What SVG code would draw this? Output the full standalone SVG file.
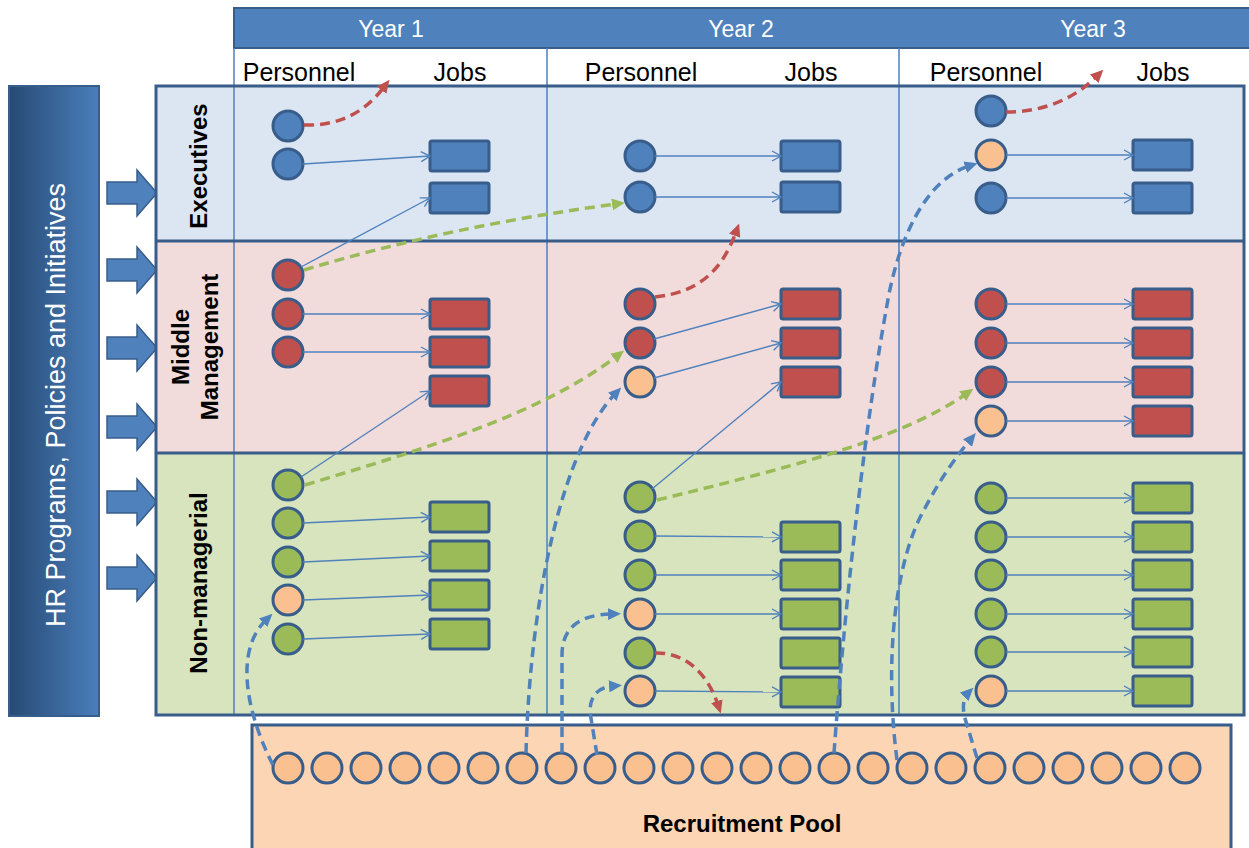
<svg xmlns="http://www.w3.org/2000/svg" width="1249" height="848" viewBox="0 0 1249 848">
<style>
text{font-family:"Liberation Sans",Arial,sans-serif}
.hd{font-size:23px;fill:#fff;text-anchor:middle}
.sub{font-size:25px;fill:#000;text-anchor:middle}
.band{font-size:24px;font-weight:bold;fill:#000;text-anchor:middle}
.n{stroke:#385d8a;stroke-width:3}
.exe{fill:#4f81bd}.mid{fill:#c0504d}.non{fill:#9bbb59}.new{fill:#fac090}
.col{stroke:#4f81bd;stroke-width:1.5;fill:none}
.sep{stroke:#385d8a;stroke-width:3;fill:none}
.lk{stroke:#4f81bd;stroke-width:1.4;fill:none;marker-end:url(#open)}
.d{stroke-width:3.5;stroke-dasharray:10 6;fill:none}
.dr{stroke:#c0504d;marker-end:url(#ar)}
.dg{stroke:#9bbb59;marker-end:url(#ag)}
.db{stroke:#4f81bd;marker-end:url(#ab)}
.la{fill:#4f81bd;stroke:#385d8a;stroke-width:1.5}
</style>
<defs>
<linearGradient id="hrg" x1="0" y1="0" x2="1" y2="0">
<stop offset="0" stop-color="#274a74"/>
<stop offset="1" stop-color="#4a7ebb"/>
</linearGradient>
<marker id="open" markerUnits="userSpaceOnUse" markerWidth="12" markerHeight="12" refX="10" refY="6" orient="auto">
<path d="M1,1 L10,6 L1,11" fill="none" stroke="#4f81bd" stroke-width="1.4"/>
</marker>
<marker id="ar" markerUnits="userSpaceOnUse" markerWidth="13" markerHeight="12" refX="4" refY="6" orient="auto">
<path d="M0,0 L13,6 L0,12 z" fill="#c0504d"/>
</marker>
<marker id="ag" markerUnits="userSpaceOnUse" markerWidth="13" markerHeight="12" refX="4" refY="6" orient="auto">
<path d="M0,0 L13,6 L0,12 z" fill="#9bbb59"/>
</marker>
<marker id="ab" markerUnits="userSpaceOnUse" markerWidth="13" markerHeight="12" refX="4" refY="6" orient="auto">
<path d="M0,0 L13,6 L0,12 z" fill="#4f81bd"/>
</marker>
</defs>
<rect width="1249" height="848" fill="#fff"/>

<g id="header">
<rect x="234" y="8" width="1022" height="40" fill="#4f81bd" stroke="#385d8a" stroke-width="2"/>
<text class="hd" x="391" y="37">Year 1</text>
<text class="hd" x="741" y="37">Year 2</text>
<text class="hd" x="1093" y="37">Year 3</text>
<text class="sub" x="299" y="81">Personnel</text>
<text class="sub" x="460" y="81">Jobs</text>
<text class="sub" x="641" y="81">Personnel</text>
<text class="sub" x="811" y="81">Jobs</text>
<text class="sub" x="986" y="81">Personnel</text>
<text class="sub" x="1163" y="81">Jobs</text>
</g>

<g id="hr-bar">
<rect x="9" y="86" width="90" height="630" fill="url(#hrg)" stroke="#385d8a" stroke-width="2"/>
<text transform="translate(65,405) rotate(-90)" font-size="27" fill="#fff" text-anchor="middle">HR Programs, Policies and Initiatives</text>
</g>
<g id="hr-arrows">
<polygon class="la" points="107,182 137,182 137,170 157,193 137,216 137,204 107,204"/>
<polygon class="la" points="107,259 137,259 137,247 157,270 137,293 137,281 107,281"/>
<polygon class="la" points="107,337 137,337 137,325 157,348 137,371 137,359 107,359"/>
<polygon class="la" points="107,416 137,416 137,404 157,427 137,450 137,438 107,438"/>
<polygon class="la" points="107,491 137,491 137,479 157,502 137,525 137,513 107,513"/>
<polygon class="la" points="107,567 137,567 137,555 157,578 137,601 137,589 107,589"/>
</g>

<g id="bands">
<rect x="156" y="86" width="1088" height="155" fill="#dce6f2"/>
<rect x="156" y="241" width="1088" height="212" fill="#f2dcdb"/>
<rect x="156" y="453" width="1088" height="262" fill="#d7e4bd"/>
<line class="col" x1="234" y1="48" x2="234" y2="715"/>
<line class="col" x1="547" y1="48" x2="547" y2="715"/>
<line class="col" x1="899" y1="48" x2="899" y2="715"/>
<line class="sep" x1="156" y1="241" x2="1244" y2="241"/>
<line class="sep" x1="156" y1="453" x2="1244" y2="453"/>
<rect class="sep" x="156" y="86" width="1088" height="629"/>
</g>
<g id="label-executives"><text class="band" transform="translate(207,166) rotate(-90)">Executives</text></g>
<g id="label-middle"><text class="band" transform="translate(189,347) rotate(-90)">Middle</text><text class="band" transform="translate(218,347) rotate(-90)">Management</text></g>
<g id="label-nonmanagerial"><text class="band" transform="translate(207,583) rotate(-90)">Non-managerial</text></g>

<g id="pool">
<rect x="252" y="725" width="979" height="130" fill="#fcd5b5" stroke="#385d8a" stroke-width="3"/>
<text x="742" y="832" font-size="24" font-weight="bold" text-anchor="middle">Recruitment Pool</text>
<g class="n new">
<circle cx="288" cy="768" r="15"/><circle cx="327" cy="768" r="15"/><circle cx="366" cy="768" r="15"/><circle cx="405" cy="768" r="15"/><circle cx="444" cy="768" r="15"/><circle cx="483" cy="768" r="15"/><circle cx="522" cy="768" r="15"/><circle cx="561" cy="768" r="15"/><circle cx="600" cy="768" r="15"/><circle cx="639" cy="768" r="15"/><circle cx="678" cy="768" r="15"/><circle cx="717" cy="768" r="15"/><circle cx="756" cy="768" r="15"/><circle cx="795" cy="768" r="15"/><circle cx="834" cy="768" r="15"/><circle cx="873" cy="768" r="15"/><circle cx="912" cy="768" r="15"/><circle cx="951" cy="768" r="15"/><circle cx="990" cy="768" r="15"/><circle cx="1029" cy="768" r="15"/><circle cx="1068" cy="768" r="15"/><circle cx="1107" cy="768" r="15"/><circle cx="1146" cy="768" r="15"/><circle cx="1185" cy="768" r="15"/>
</g>
</g>

<g id="year1-personnel" class="n">
<circle class="exe" cx="288" cy="126" r="15"/><circle class="exe" cx="288" cy="164" r="15"/>
<circle class="mid" cx="288" cy="275" r="15"/><circle class="mid" cx="288" cy="314" r="15"/><circle class="mid" cx="288" cy="352" r="15"/>
<circle class="non" cx="288" cy="485" r="15"/><circle class="non" cx="288" cy="523" r="15"/><circle class="non" cx="288" cy="562" r="15"/><circle class="new" cx="288" cy="600" r="15"/><circle class="non" cx="288" cy="639" r="15"/>
</g>
<g id="year1-jobs" class="n">
<rect class="exe" x="430" y="141" width="59" height="30" rx="2"/><rect class="exe" x="430" y="183" width="59" height="30" rx="2"/>
<rect class="mid" x="430" y="299" width="59" height="30" rx="2"/><rect class="mid" x="430" y="337" width="59" height="30" rx="2"/><rect class="mid" x="430" y="376" width="59" height="30" rx="2"/>
<rect class="non" x="430" y="502" width="59" height="30" rx="2"/><rect class="non" x="430" y="541" width="59" height="30" rx="2"/><rect class="non" x="430" y="580" width="59" height="30" rx="2"/><rect class="non" x="430" y="619" width="59" height="30" rx="2"/>
</g>

<g id="year2-personnel" class="n">
<circle class="exe" cx="640" cy="156" r="15"/><circle class="exe" cx="640" cy="197" r="15"/>
<circle class="mid" cx="640" cy="304" r="15"/><circle class="mid" cx="640" cy="343" r="15"/><circle class="new" cx="640" cy="382" r="15"/>
<circle class="non" cx="640" cy="497" r="15"/><circle class="non" cx="640" cy="536" r="15"/><circle class="non" cx="640" cy="575" r="15"/><circle class="new" cx="640" cy="614" r="15"/><circle class="non" cx="640" cy="653" r="15"/><circle class="new" cx="640" cy="691" r="15"/>
</g>
<g id="year2-jobs" class="n">
<rect class="exe" x="781" y="141" width="59" height="30" rx="2"/><rect class="exe" x="781" y="182" width="59" height="30" rx="2"/>
<rect class="mid" x="781" y="289" width="59" height="30" rx="2"/><rect class="mid" x="781" y="328" width="59" height="30" rx="2"/><rect class="mid" x="781" y="367" width="59" height="30" rx="2"/>
<rect class="non" x="781" y="522" width="59" height="30" rx="2"/><rect class="non" x="781" y="560" width="59" height="30" rx="2"/><rect class="non" x="781" y="599" width="59" height="30" rx="2"/><rect class="non" x="781" y="638" width="59" height="30" rx="2"/><rect class="non" x="781" y="677" width="59" height="30" rx="2"/>
</g>

<g id="year3-personnel" class="n">
<circle class="exe" cx="991" cy="111" r="15"/><circle class="new" cx="991" cy="155" r="15"/><circle class="exe" cx="991" cy="198" r="15"/>
<circle class="mid" cx="991" cy="304" r="15"/><circle class="mid" cx="991" cy="343" r="15"/><circle class="mid" cx="991" cy="382" r="15"/><circle class="new" cx="991" cy="421" r="15"/>
<circle class="non" cx="991" cy="498" r="15"/><circle class="non" cx="991" cy="537" r="15"/><circle class="non" cx="991" cy="575" r="15"/><circle class="non" cx="991" cy="614" r="15"/><circle class="non" cx="991" cy="652" r="15"/><circle class="new" cx="991" cy="691" r="15"/>
</g>
<g id="year3-jobs" class="n">
<rect class="exe" x="1133" y="140" width="59" height="30" rx="2"/><rect class="exe" x="1133" y="183" width="59" height="30" rx="2"/>
<rect class="mid" x="1133" y="289" width="59" height="30" rx="2"/><rect class="mid" x="1133" y="328" width="59" height="30" rx="2"/><rect class="mid" x="1133" y="367" width="59" height="30" rx="2"/><rect class="mid" x="1133" y="406" width="59" height="30" rx="2"/>
<rect class="non" x="1133" y="483" width="59" height="30" rx="2"/><rect class="non" x="1133" y="522" width="59" height="30" rx="2"/><rect class="non" x="1133" y="560" width="59" height="30" rx="2"/><rect class="non" x="1133" y="599" width="59" height="30" rx="2"/><rect class="non" x="1133" y="637" width="59" height="30" rx="2"/><rect class="non" x="1133" y="676" width="59" height="30" rx="2"/>
</g>

<g id="connectors">
<path class="lk" d="M303,164 L430,156"/>
<path class="lk" d="M301,267 L430,198"/>
<path class="lk" d="M303,314 L430,314"/>
<path class="lk" d="M303,352 L430,352"/>
<path class="lk" d="M301,477 L430,391"/>
<path class="lk" d="M303,523 L430,517"/>
<path class="lk" d="M303,562 L430,556"/>
<path class="lk" d="M303,600 L430,595"/>
<path class="lk" d="M303,639 L430,634"/>

<path class="lk" d="M655,156 L781,156"/>
<path class="lk" d="M655,197 L781,197"/>
<path class="lk" d="M654,339 L781,304"/>
<path class="lk" d="M654,378 L781,343"/>
<path class="lk" d="M652,489 L781,382"/>
<path class="lk" d="M655,536 L781,537"/>
<path class="lk" d="M655,575 L781,575"/>
<path class="lk" d="M655,614 L781,614"/>
<path class="lk" d="M655,691 L781,692"/>

<path class="lk" d="M1006,155 L1133,155"/>
<path class="lk" d="M1006,198 L1133,198"/>
<path class="lk" d="M1006,304 L1133,304"/>
<path class="lk" d="M1006,343 L1133,343"/>
<path class="lk" d="M1006,382 L1133,382"/>
<path class="lk" d="M1006,421 L1133,421"/>
<path class="lk" d="M1006,498 L1133,498"/>
<path class="lk" d="M1006,537 L1133,537"/>
<path class="lk" d="M1006,575 L1133,575"/>
<path class="lk" d="M1006,614 L1133,614"/>
<path class="lk" d="M1006,652 L1133,652"/>
<path class="lk" d="M1006,691 L1133,691"/>

<path class="d dr" d="M304,125 C340,126 365,112 384,87"/>
<path class="d dr" d="M1006,112 C1045,112 1075,98 1097,76"/>
<path class="d dr" d="M655,297 C700,292 722,270 736,232"/>
<path class="d dr" d="M655,653 C690,652 710,680 718,705"/>

<path class="d dg" d="M304,270 Q450,226 616,204"/>
<path class="d dg" d="M305,485 C420,450 540,415 617,356"/>
<path class="d dg" d="M657,500 C780,470 900,440 966,394"/>

<path class="d db" d="M273,765 C245,710 235,650 266,620"/>
<path class="d db" d="M526,753 C530,600 562,450 615,394"/>
<path class="d db" d="M562,753 L562,655 Q562,615 612,614"/>
<path class="d db" d="M597,755 L590,712 Q590,688 613,686"/>
<path class="d db" d="M834,753 C846,590 866,420 887,305 C898,240 925,180 969,166"/>
<path class="d db" d="M897,760 C884,660 895,560 925,508 Q945,470 970,440"/>
<path class="d db" d="M977,758 L964,715 Q962,699 967,694"/>
</g>
</svg>
